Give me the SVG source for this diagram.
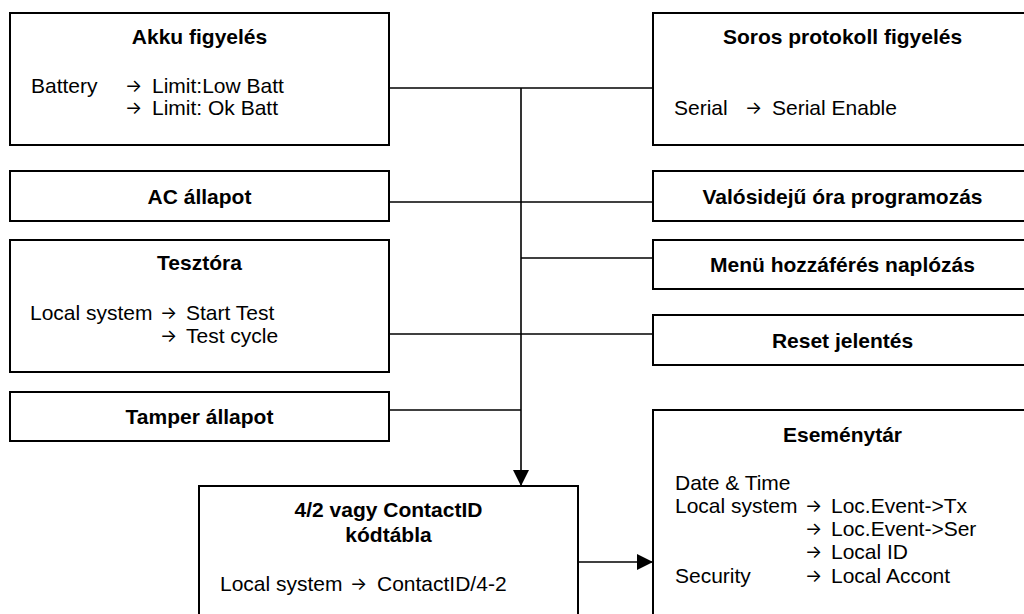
<svg xmlns="http://www.w3.org/2000/svg" width="1024" height="614" viewBox="0 0 1024 614">
<style>
.box{fill:#fff;stroke:#000;stroke-width:2}
.t{font-family:"Liberation Sans",Arial,sans-serif;font-size:21px;fill:#000}
.a{font-family:Inter,"DejaVu Sans",sans-serif;font-size:18px;fill:#000}
.b{font-weight:bold;text-anchor:middle}
.ln{fill:none;stroke:#000;stroke-width:1.6}
</style>
<defs>
<marker id="ah" viewBox="0 0 16 16" refX="16" refY="8" markerWidth="16" markerHeight="16" orient="auto" markerUnits="userSpaceOnUse"><path d="M0,0 L16,8 L0,16 z" fill="#000"/></marker>
</defs>
<rect width="1024" height="614" fill="#fff"/>
<g id="connectors">
<path class="ln" d="M389 88 H653"/>
<path class="ln" d="M389 202 H653"/>
<path class="ln" d="M521 258 H653"/>
<path class="ln" d="M389 334 H653"/>
<path class="ln" d="M389 410 H521"/>
<path class="ln" d="M521 88 V486" marker-end="url(#ah)"/>
<path class="ln" d="M578 562 H653" marker-end="url(#ah)"/>
</g>
<g id="akku">
<rect class="box" x="10" y="13" width="379" height="132"/>
<text class="t b" x="199.5" y="44">Akku figyelés</text>
<text class="t" x="31" y="93">Battery</text>
<text class="a" x="125" y="92">→</text>
<text class="t" x="152" y="93">Limit:Low Batt</text>
<text class="a" x="125" y="114">→</text>
<text class="t" x="152" y="115">Limit: Ok Batt</text>
</g>
<g id="soros">
<rect class="box" x="653" y="13" width="379" height="132"/>
<text class="t b" x="842.5" y="44">Soros protokoll figyelés</text>
<text class="t" x="674" y="115">Serial</text>
<text class="a" x="745" y="114">→</text>
<text class="t" x="772" y="115">Serial Enable</text>
</g>
<g id="ac">
<rect class="box" x="10" y="171" width="379" height="50"/>
<text class="t b" x="199.5" y="203.5">AC állapot</text>
</g>
<g id="valos">
<rect class="box" x="653" y="171" width="379" height="50"/>
<text class="t b" x="842.5" y="203.5">Valósidejű óra programozás</text>
</g>
<g id="teszt">
<rect class="box" x="10" y="240" width="379" height="132"/>
<text class="t b" x="199.5" y="270">Tesztóra</text>
<text class="t" x="30" y="320">Local system</text>
<text class="a" x="160" y="319">→</text>
<text class="t" x="186" y="320">Start Test</text>
<text class="a" x="160" y="342">→</text>
<text class="t" x="186" y="343">Test cycle</text>
</g>
<g id="menu">
<rect class="box" x="653" y="240" width="379" height="49"/>
<text class="t b" x="842.5" y="272">Menü hozzáférés naplózás</text>
</g>
<g id="reset">
<rect class="box" x="653" y="315" width="379" height="50"/>
<text class="t b" x="842.5" y="347.5">Reset jelentés</text>
</g>
<g id="tamper">
<rect class="box" x="10" y="392" width="379" height="49"/>
<text class="t b" x="199.5" y="424">Tamper állapot</text>
</g>
<g id="kodtabla">
<rect class="box" x="199" y="486" width="379" height="140"/>
<text class="t b" x="388.5" y="517">4/2 vagy ContactID</text>
<text class="t b" x="388.5" y="542">kódtábla</text>
<text class="t" x="220" y="591">Local system</text>
<text class="a" x="350" y="590">→</text>
<text class="t" x="377" y="591">ContactID/4-2</text>
</g>
<g id="esemenytar">
<rect class="box" x="653" y="410" width="379" height="216"/>
<text class="t b" x="842.5" y="442">Eseménytár</text>
<text class="t" x="675" y="490">Date &amp; Time</text>
<text class="t" x="675" y="513">Local system</text>
<text class="a" x="805" y="512">→</text>
<text class="t" x="831" y="513">Loc.Event-&gt;Tx</text>
<text class="a" x="805" y="535">→</text>
<text class="t" x="831" y="536">Loc.Event-&gt;Ser</text>
<text class="a" x="805" y="558">→</text>
<text class="t" x="831" y="559">Local ID</text>
<text class="t" x="675" y="583">Security</text>
<text class="a" x="805" y="582">→</text>
<text class="t" x="831" y="583">Local Accont</text>
</g>
</svg>
